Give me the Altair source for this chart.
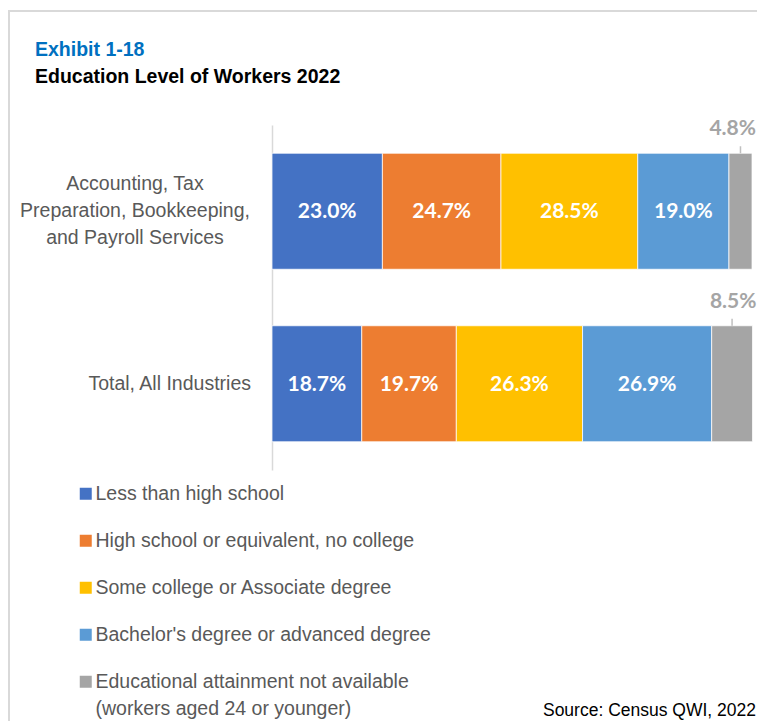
import altair as alt
import pandas as pd

# ---- data ----
categories = [
    "Accounting, Tax Preparation, Bookkeeping, and Payroll Services",
    "Total, All Industries",
]
category_lines = [
    "Accounting, Tax\nPreparation, Bookkeeping,\nand Payroll Services",
    "Total, All Industries",
]
levels = [
    "Less than high school",
    "High school or equivalent, no college",
    "Some college or Associate degree",
    "Bachelor's degree or advanced degree",
    "Educational attainment not available (workers aged 24 or younger)",
]
level_colors = ["#4472C4", "#ED7D31", "#FFC000", "#5B9BD5", "#A5A5A5"]
accounting_values = [23.0, 24.7, 28.5, 19.0, 4.8]
total_values = [18.7, 19.7, 26.3, 26.9, 8.5]

title_text = "Exhibit 1-18"
subtitle_text = "Education Level of Workers 2022"
source_text = "Source: Census QWI, 2022"

rows = []
for cat, vals in zip(categories, [accounting_values, total_values]):
    for i, (lvl, v) in enumerate(zip(levels, vals)):
        rows.append({"category": cat, "level": lvl, "order": i, "value": v})
df = pd.DataFrame(rows)
lab_df = pd.DataFrame({"category": categories, "text": category_lines})
one = pd.DataFrame({"k": [0]})

FONT = "Liberation Sans"
xscale = alt.Scale(domain=[0, 100], nice=False, zero=True)
yenc = alt.Y(
    "category:N",
    sort=categories,
    scale=alt.Scale(paddingInner=0, paddingOuter=0),
    axis=alt.Axis(labels=False, ticks=False, domain=True, domainColor="#D9D9D9",
                  domainWidth=1.5, title=None, grid=False),
)

base = (
    alt.Chart(df)
    .transform_stack(stack="value", groupby=["category"], as_=["x0", "x1"],
                     sort=[alt.SortField("order", order="ascending")])
    .transform_calculate(mid="(datum.x0 + datum.x1) / 2",
                         label="format(datum.value, '.1f') + '%'")
)

last_label_expr = (
    "datum.label == '" + levels[4] + "' ? "
    "['Educational attainment not available', '(workers aged 24 or younger)'] : datum.label"
)

bars = base.mark_bar(size=116, stroke="white", strokeWidth=0.75).encode(
    x=alt.X("x0:Q", scale=xscale, axis=None),
    x2="x1:Q",
    y=yenc,
    color=alt.Color(
        "level:N",
        scale=alt.Scale(domain=levels, range=level_colors),
        legend=alt.Legend(
            orient="none", legendX=-196, legendY=359, direction="vertical",
            title=None, symbolType="square", symbolSize=144, symbolStrokeWidth=0,
            labelFont=FONT, labelFontSize=19.5, labelColor="#595959",
            labelOffset=0, rowPadding=26, padding=0, labelLimit=600,
            labelExpr=last_label_expr,
        ),
    ),
)

inner_labels = base.transform_filter("datum.order < 4").mark_text(
    font="Lato", fontSize=21, fontWeight="bold", color="white", dy=1
).encode(x=alt.X("mid:Q", scale=xscale), y=yenc, text="label:N")

outer_labels = base.transform_filter("datum.order == 4").mark_text(
    font="Lato", fontSize=21, fontWeight="bold", color="#A5A5A5", dy=-82,
    align="right", dx=4
).encode(x=alt.X("x1:Q", scale=xscale), y=yenc, text="label:N")

leaders = base.transform_filter("datum.order == 4").mark_tick(
    orient="vertical", size=7, thickness=1.5, color="#A5A5A5", yOffset=-61.5
).encode(x=alt.X("mid:Q", scale=xscale), y=yenc)

cat_label_1 = alt.Chart(lab_df).transform_filter(
    alt.datum.category == categories[0]
).mark_text(
    align="center", baseline="middle", lineBreak="\n", lineHeight=27,
    font=FONT, fontSize=19.5, color="#595959", dy=-27
).encode(y=yenc, x=alt.value(-137), text="text:N")

cat_label_2 = alt.Chart(lab_df).transform_filter(
    alt.datum.category == categories[1]
).mark_text(
    align="right", baseline="middle", font=FONT, fontSize=19.5, color="#595959"
).encode(y=yenc, x=alt.value(-21), text="text:N")

title_mark = alt.Chart(one).mark_text(
    align="left", baseline="alphabetic", font=FONT, fontSize=19.5,
    fontWeight="bold", color="#0070C0"
).encode(x=alt.value(-237), y=alt.value(-69), text=alt.value(title_text))

subtitle_mark = alt.Chart(one).mark_text(
    align="left", baseline="alphabetic", font=FONT, fontSize=19.5,
    fontWeight="bold", color="black"
).encode(x=alt.value(-237), y=alt.value(-42), text=alt.value(subtitle_text))

source_mark = alt.Chart(one).mark_text(
    align="right", baseline="alphabetic", font=FONT, fontSize=17.5, color="black"
).encode(x=alt.value(484), y=alt.value(591), text=alt.value(source_text))

frame_left = alt.Chart(one).mark_rule(color="#D9D9D9", strokeWidth=2).encode(
    x=alt.value(-263), y=alt.value(-114), y2=alt.value(600)
)
frame_top = alt.Chart(one).mark_rule(color="#D9D9D9", strokeWidth=2).encode(
    x=alt.value(-264), x2=alt.value(490), y=alt.value(-114)
)

chart = (
    alt.layer(frame_left, frame_top, bars, inner_labels, outer_labels, leaders,
              cat_label_1, cat_label_2, title_mark, subtitle_mark, source_mark)
    .properties(
        width=480, height=345,
        autosize=alt.AutoSizeParams(type="none"),
        padding={"left": 264, "top": 117, "right": 5, "bottom": 251},
        background="white",
    )
    .configure(
        view=alt.ViewConfig(stroke=None),
        style={"guide-label": {"lineHeight": 27}},
    )
)

chart.save("out.html", embed_options={"renderer": "svg", "actions": False})
